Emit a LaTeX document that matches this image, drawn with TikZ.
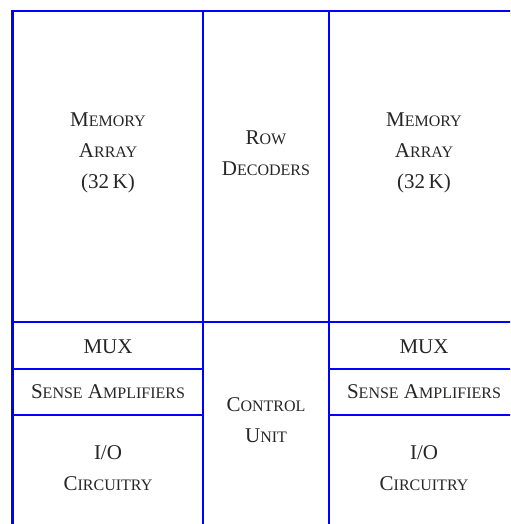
\documentclass[tikz,border=0pt]{standalone}
\usepackage{fontspec}
\setmainfont{Liberation Serif}
% small capitals built from reduced upper-case letters
\newcommand\smc[1]{{\fontsize{8}{8}\selectfont #1}}
\begin{document}
\begin{tikzpicture}[x=0.5pt,y=-0.5pt,
  wall/.style={draw=blue, line width=1.3pt},
  lbl/.style={font=\fontsize{10.5}{15.5}\selectfont, align=center,
              inner sep=0pt, text=black!85}]
\useasboundingbox (0,0) rectangle (510,524);
\fill[white] (0,0) rectangle (510,524);

% grid of the memory layout (right and bottom edges run off the sheet)
\coordinate (tl) at (12.5,11);
\coordinate (tr) at (540,11);
\coordinate (bl) at (12.5,540);
\coordinate (c1t) at (203,11);
\coordinate (c1b) at (203,540);
\coordinate (c2t) at (329,11);
\coordinate (c2b) at (329,540);
\coordinate (h1l) at (12.5,322);
\coordinate (h1r) at (540,322);
\coordinate (h2l) at (12.5,369);
\coordinate (h2m) at (203,369);
\coordinate (h2n) at (329,369);
\coordinate (h2r) at (540,369);
\coordinate (h3l) at (12.5,415);
\coordinate (h3m) at (203,415);
\coordinate (h3n) at (329,415);
\coordinate (h3r) at (540,415);

\begin{scope}
\clip (0,0) rectangle (510,524);
\draw[wall] (bl) -- (tl) -- (tr);
\draw[wall] (c1t) -- (c1b);
\draw[wall] (c2t) -- (c2b);
\draw[wall] (h1l) -- (h1r);
\draw[wall] (h2l) -- (h2m);
\draw[wall] (h2n) -- (h2r);
\draw[wall] (h3l) -- (h3m);
\draw[wall] (h3n) -- (h3r);
\end{scope}

% labels
\node[lbl] (arrL) at (108,153) {M\smc{EMORY}\\A\smc{RRAY}\\(32\,K)};
\node[lbl] (rowdec) at (266,153) {R\smc{OW}\\D\smc{ECODERS}};
\node[lbl] (arrR) at (424,153) {M\smc{EMORY}\\A\smc{RRAY}\\(32\,K)};
\node[lbl] (muxL) at (108,347) {MUX};
\node[lbl] (muxR) at (424,347) {MUX};
\node[lbl] (senseL) at (108,392) {S\smc{ENSE} A\smc{MPLIFIERS}};
\node[lbl] (senseR) at (424,392) {S\smc{ENSE} A\smc{MPLIFIERS}};
\node[lbl] (ioL) at (108,468) {I/O\\C\smc{IRCUITRY}};
\node[lbl] (ioR) at (424,468) {I/O\\C\smc{IRCUITRY}};
\node[lbl] (ctrl) at (266,420) {C\smc{ONTROL}\\U\smc{NIT}};
\end{tikzpicture}
\end{document}
